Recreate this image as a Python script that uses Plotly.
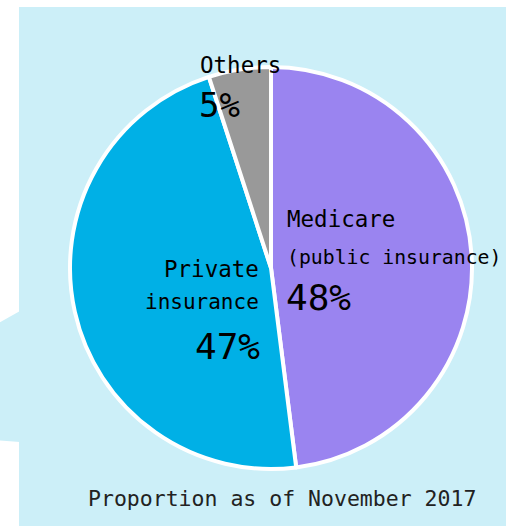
import plotly.graph_objects as go

# proportion of health insurance coverage, November 2017
labels = ["Medicare", "Private insurance", "Others"]
values = [48, 47, 5]
slice_colors = ["#9A84F0", "#00B0E6", "#999999"]
label_lines = [["Medicare", "(public insurance)"], ["Private", "insurance"], ["Others"]]
caption = "Proportion as of November 2017"

FONT = "DejaVu Sans Mono"
W, H = 506, 526

fig = go.Figure()
fig.add_trace(go.Pie(
    labels=labels, values=values, sort=False, direction="clockwise", rotation=0,
    marker=dict(colors=slice_colors, line=dict(color="white", width=4)),
    textinfo="none", hoverinfo="label+percent", showlegend=False,
    domain=dict(x=[70 / W, 472 / W], y=[1 - 470 / H, 1 - 66 / H]),
))

def px2x(v):
    return v / W

def px2y(v):
    return 1 - v / H

# panel + speech bubble pointer
shapes = [
    dict(type="rect", xref="paper", yref="paper", x0=px2x(19), x1=1.02, y0=-0.02, y1=px2y(7),
         fillcolor="#CCEFF8", line=dict(width=0), layer="below"),
    dict(type="path", xref="paper", yref="paper",
         path=f"M {px2x(20)},{px2y(311)} L {px2x(-5)},{px2y(325)} L {px2x(-5)},{px2y(440)} L {px2x(20)},{px2y(442)} Z",
         fillcolor="#CCEFF8", line=dict(width=0), layer="below"),
]

pct = [f"{v}%" for v in values]
ann = [
    # Medicare
    dict(x=px2x(285), y=px2y(219), text=label_lines[0][0], xanchor="left", yanchor="middle", font=dict(size=22.5)),
    dict(x=px2x(285), y=px2y(257), text=label_lines[0][1], xanchor="left", yanchor="middle", font=dict(size=19.8)),
    dict(x=px2x(284), y=px2y(297), text=pct[0], xanchor="left", yanchor="middle", font=dict(size=36)),
    # Private
    dict(x=px2x(261), y=px2y(269), text=label_lines[1][0], xanchor="right", yanchor="middle", font=dict(size=22.5)),
    dict(x=px2x(261), y=px2y(302), text=label_lines[1][1], xanchor="right", yanchor="middle", font=dict(size=21)),
    dict(x=px2x(262), y=px2y(346), text=pct[1], xanchor="right", yanchor="middle", font=dict(size=36)),
    # Others
    dict(x=px2x(240), y=px2y(65), text=label_lines[2][0], xanchor="center", yanchor="middle", font=dict(size=22.5)),
    dict(x=px2x(197), y=px2y(105), text=pct[2], xanchor="left", yanchor="middle", font=dict(size=34)),
    # caption
    dict(x=px2x(282), y=px2y(498), text=caption, xanchor="center", yanchor="middle", font=dict(size=21.5, color="#222222")),
]
for a in ann:
    a.update(xref="paper", yref="paper", showarrow=False)
    a["font"].setdefault("color", "black")
    a["font"]["family"] = FONT

fig.update_layout(
    width=W, height=H, margin=dict(l=0, r=0, t=0, b=0),
    paper_bgcolor="white", plot_bgcolor="white",
    shapes=shapes, annotations=ann,
)
fig.write_html("out.html", config={"displayModeBar": False},
               post_script="document.body.style.margin='0';document.body.style.overflow='hidden';"
                           "document.documentElement.style.overflow='hidden';")
